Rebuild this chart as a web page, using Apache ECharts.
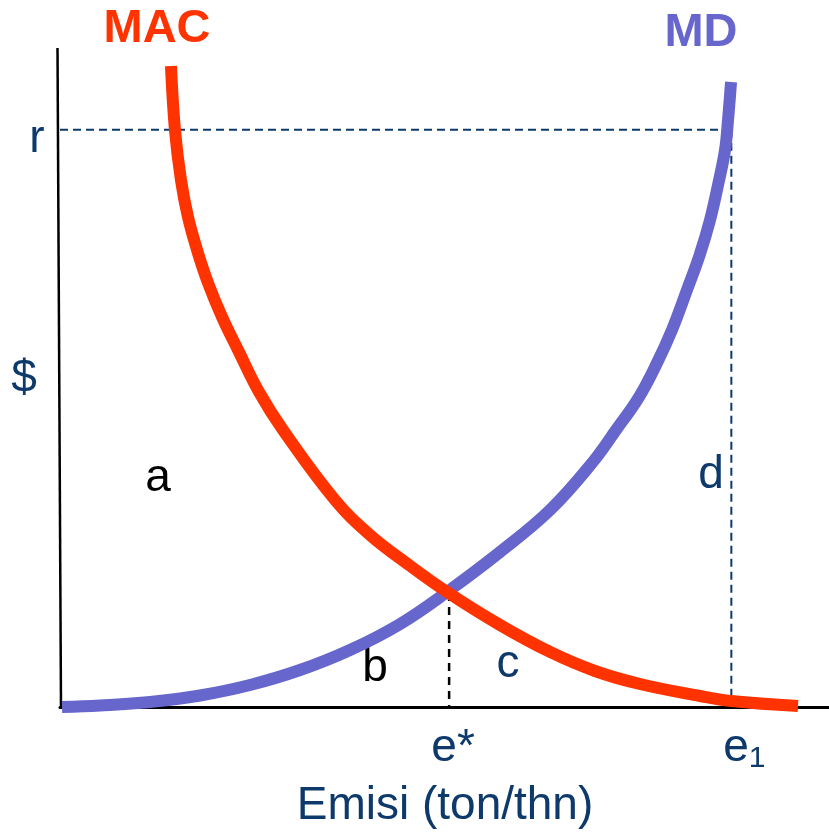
<!DOCTYPE html>
<html>
<head>
<meta charset="utf-8">
<script src="https://cdn.jsdelivr.net/npm/echarts@6/dist/echarts.min.js"></script>
<style>
html,body{margin:0;padding:0;background:#fff;}
#chart{width:829px;height:836px;}
</style>
</head>
<body>
<div id="chart"></div>
<script>
// Emission (x, 0-100) and $ (y, 0-100) values
const macX = [14.43, 14.95, 15.73, 16.64, 17.82, 19.25, 21.07, 23.15, 25.88, 29.00, 35.76, 40.31, 45.38, 50.33, 57.22, 63.72, 69.57, 75.42, 83.22, 87.26, 95.97];
const macY = [97.27, 87.56, 79.97, 74.36, 69.35, 64.34, 59.18, 54.17, 47.80, 42.03, 31.41, 26.10, 21.55, 17.45, 12.44, 8.35, 5.46, 3.49, 1.67, 0.91, 0.15];
const mdX = [0.26, 5.20, 11.70, 18.21, 24.71, 31.21, 37.71, 44.21, 50.33, 57.22, 63.72, 69.18, 72.30, 75.29, 77.63, 79.58, 81.53, 83.22, 84.53, 85.57, 86.48, 86.87, 87.26];
const mdY = [0, 0.23, 0.76, 1.75, 3.34, 5.61, 8.65, 12.59, 17.45, 23.52, 29.89, 37.03, 42.03, 47.04, 52.20, 57.21, 63.28, 68.74, 73.90, 79.21, 84.52, 89.07, 94.84];
const rValue = 87.6;      // price r
const eStar = 50.6;       // e*
const eStarY = 17.3;      // value at e*
const e1 = 87.3;          // e1
const curveNames = ['MAC', 'MD'];
const areaLabels = ['a', 'b', 'c', 'd'];
const yLabel = '$';
const xTitle = 'Emisi (ton/thn)';

const RED = '#FF3300', BLUE = '#6666CC', NAVY = '#0d3a6a';
const FONT = 'Liberation Sans, Arial, sans-serif';

const zip = (xs, ys) => xs.map((x, i) => [x, ys[i]]);

const chart = echarts.init(document.getElementById('chart'));
const option = {
  animation: false,
  grid: {left: 60, right: 0, top: 48, bottom: 129},
  xAxis: {type: 'value', min: 0, max: 100, splitLine: {show: false},
    axisLine: {lineStyle: {color: '#000', width: 3}}, axisTick: {show: false}, axisLabel: {show: false}},
  yAxis: {type: 'value', min: 0, max: 100, splitLine: {show: false},
    axisLine: {show: false}, axisTick: {show: false}, axisLabel: {show: false}},
  series: [
    {type: 'line', data: [[0, rValue], [e1, rValue]], symbol: 'none',
      lineStyle: {color: NAVY, width: 2, type: [8, 5]}, z: 1},
    {type: 'line', data: [[e1, rValue], [e1, 0]], symbol: 'none',
      lineStyle: {color: NAVY, width: 2, type: [8, 5]}, z: 1},
    {type: 'line', data: [[eStar, eStarY], [eStar, 0]], symbol: 'none',
      lineStyle: {color: '#000', width: 2.5, type: [8, 6]}, z: 1},
    {name: curveNames[1], type: 'line', data: zip(mdX, mdY), symbol: 'none', smooth: 0.4,
      lineStyle: {color: BLUE, width: 12, cap: 'butt'}, z: 3},
    {name: curveNames[0], type: 'line', data: zip(macX, macY), symbol: 'none', smooth: 0.4,
      lineStyle: {color: RED, width: 12, cap: 'butt'}, z: 4}
  ]
};
chart.setOption(option);

const P = (x, y) => chart.convertToPixel({gridIndex: 0}, [x, y]);
const rPix = P(0, rValue)[1];
const eStarPix = P(eStar, 0)[0];
const e1Pix = P(e1, 0)[0];

function txt(text, x, y, color, size, bold) {
  return {
    type: 'text', x: x, y: y,
    style: {text: text, fill: color, font: (bold ? 'bold ' : '') + size + 'px ' + FONT,
      align: 'center', verticalAlign: 'middle'}
  };
}

chart.setOption({
  graphic: [
    {type: 'line', shape: {x1: 57.5, y1: 48, x2: 61, y2: 708}, style: {stroke: '#000', lineWidth: 2.5}, z: 0},
    txt(curveNames[0], 157, 29, RED, 47, true),
    txt(curveNames[1], 701, 33, BLUE, 47, true),
    txt('r', 37, rPix + 10, NAVY, 46, false),
    txt(yLabel, 24, 379, NAVY, 46, false),
    txt(areaLabels[0], 158, 478, '#000', 46, false),
    txt(areaLabels[1], 375, 668, '#000', 46, false),
    txt(areaLabels[2], 508, 664, NAVY, 46, false),
    txt(areaLabels[3], 711, 475, NAVY, 46, false),
    txt('e*', eStarPix + 4, 748, NAVY, 46, false),
    {type: 'text', x: e1Pix + 13, y: 748, style: {
      text: 'e{s|1}', fill: NAVY, font: '46px ' + FONT, align: 'center', verticalAlign: 'middle',
      rich: {s: {fontSize: 30, fontFamily: FONT, fill: NAVY, padding: [22, 0, 0, 0]}}}},
    txt(xTitle, 445, 806, NAVY, 46, false)
  ]
});
</script>
</body>
</html>
